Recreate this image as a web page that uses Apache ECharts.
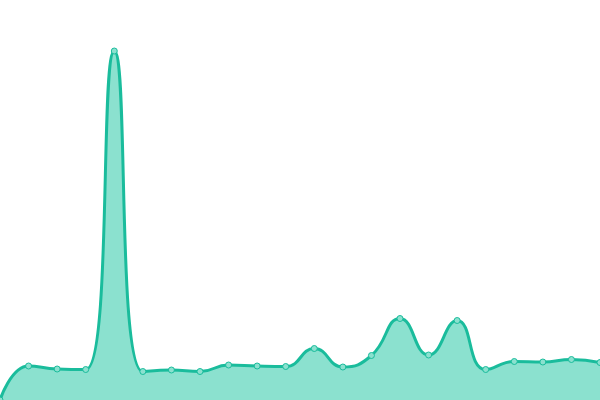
<!DOCTYPE html>
<html><head><meta charset="utf-8">
<script src="https://cdn.jsdelivr.net/npm/echarts@6/dist/echarts.min.js"></script>
<style>html,body{margin:0;padding:0;background:#fff}#c{width:600px;height:400px}</style>
</head><body><div id="c"></div>
<script>
var categories = ['1','2','3','4','5','6','7','8','9','10','11','12','13','14','15','16','17','18','19','20','21','22'];
var values = [0, 34, 31, 30.5, 349, 28.5, 30, 28.5, 35, 34, 33.5, 51.5, 33, 44.5, 81.5, 45, 79.5, 30.5, 38.5, 38, 40.5, 37.5];
var chart = echarts.init(document.getElementById('c'));
chart.setOption({
  animation: false,
  grid: {left: 0, right: 0, top: 0, bottom: 0},
  xAxis: {type: 'category', data: categories, boundaryGap: false, show: false},
  yAxis: {type: 'value', min: 0, max: 400, show: false},
  series: [{
    type: 'line',
    data: values,
    smooth: true,
    symbol: 'circle',
    symbolSize: 6,
    showSymbol: true,
    lineStyle: {color: '#1abc9c', width: 3},
    itemStyle: {color: '#8be1cf', borderColor: '#1abc9c', borderWidth: 1},
    areaStyle: {color: '#8be1cf', opacity: 1}
  }]
});
</script></body></html>
